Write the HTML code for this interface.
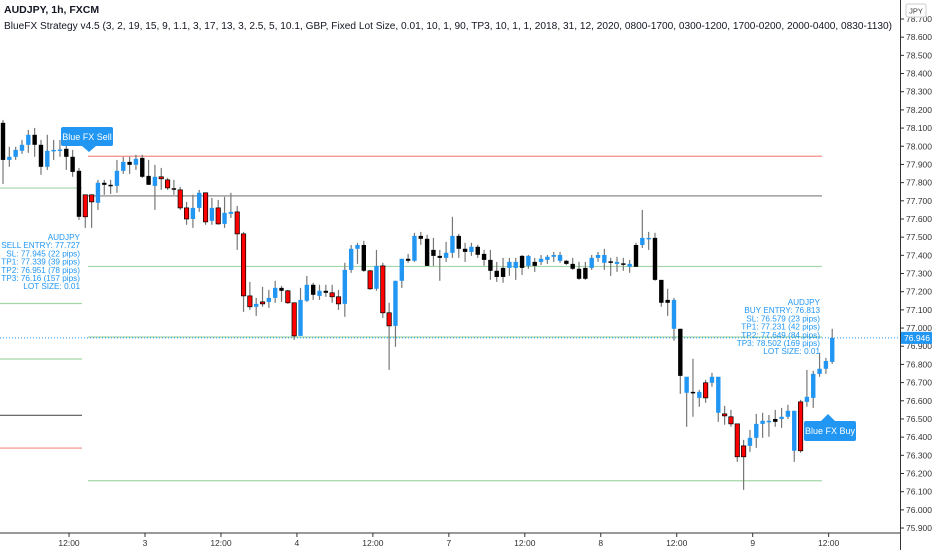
<!DOCTYPE html>
<html><head><meta charset="utf-8">
<style>
html,body{margin:0;padding:0;background:#fff;}
svg{display:block;font-family:"Liberation Sans",sans-serif;}
</style></head>
<body>
<svg id="chart" width="932" height="550" viewBox="0 0 932 550" xmlns="http://www.w3.org/2000/svg">
<rect x="0" y="0" width="932" height="550" fill="#ffffff"/>
<text x="4" y="13" font-size="10.5" font-weight="bold" fill="#131722">AUDJPY, 1h, FXCM</text>
<text x="4" y="29" font-size="10" fill="#131722" textLength="888" lengthAdjust="spacingAndGlyphs">BlueFX Strategy v4.5 (3, 2, 19, 15, 9, 1.1, 3, 17, 13, 3, 2.5, 5, 10.1, GBP, Fixed Lot Size, 0.01, 10, 1, 90, TP3, 10, 1, 1, 2018, 31, 12, 2020, 0800-1700, 0300-1200, 1700-0200, 2000-0400, 0830-1130)</text>
<g id="levels"></g>
<g id="candles"></g>
<g id="annot"></g>
<g id="yaxis"></g>
<g id="xaxis"></g>
</svg>
<script>
// ---- data ----
const opens=[78.129,77.925,77.942,77.975,78.008,78.063,78.008,77.887,77.975,77.977,77.986,77.942,77.865,77.733,77.733,77.689,77.799,77.788,77.782,77.865,77.914,77.898,77.936,77.837,77.782,77.832,77.815,77.769,77.760,77.661,77.600,77.661,77.744,77.590,77.661,77.573,77.628,77.639,77.518,77.177,77.117,77.144,77.144,77.166,77.221,77.205,77.139,76.957,77.150,77.238,77.177,77.205,77.194,77.172,77.133,77.320,77.436,77.457,77.315,77.216,77.342,77.084,77.012,77.260,77.381,77.370,77.507,77.491,77.430,77.397,77.386,77.414,77.507,77.436,77.419,77.447,77.408,77.375,77.315,77.281,77.331,77.364,77.331,77.397,77.342,77.364,77.375,77.392,77.402,77.370,77.353,77.326,77.271,77.331,77.386,77.402,77.361,77.364,77.350,77.353,77.337,77.457,77.496,77.496,77.265,77.139,77.155,76.996,76.732,76.644,76.649,76.616,76.699,76.732,76.528,76.512,76.473,76.292,76.352,76.396,76.473,76.490,76.484,76.500,76.512,76.545,76.325,76.594,76.616,76.748,76.776,76.814];
const highs=[78.145,77.997,77.997,78.035,78.090,78.101,78.035,78.063,78.035,78.035,78.008,77.980,77.881,77.733,77.733,77.815,77.815,77.815,77.925,77.942,77.942,77.953,77.953,77.925,77.898,77.881,77.826,77.815,77.776,77.694,77.733,77.760,77.744,77.716,77.705,77.722,77.744,77.672,77.529,77.254,77.166,77.227,77.210,77.260,77.232,77.210,77.139,77.221,77.287,77.249,77.238,77.238,77.238,77.210,77.359,77.457,77.469,77.480,77.320,77.430,77.359,77.139,77.260,77.381,77.408,77.524,77.529,77.513,77.496,77.430,77.474,77.612,77.518,77.469,77.469,77.458,77.430,77.430,77.364,77.386,77.386,77.386,77.402,77.402,77.386,77.402,77.402,77.419,77.419,77.375,77.386,77.364,77.364,77.402,77.419,77.436,77.386,77.392,77.386,77.375,77.469,77.650,77.529,77.524,77.265,77.216,77.166,76.996,76.732,76.831,76.660,76.715,76.754,76.732,76.572,76.550,76.473,76.385,76.440,76.528,76.534,76.522,76.550,76.561,76.578,76.545,76.605,76.770,76.765,76.864,76.836,76.996];
const lows=[77.793,77.887,77.925,77.958,77.964,77.942,77.843,77.870,77.925,77.942,77.870,77.832,77.595,77.551,77.551,77.650,77.733,77.738,77.744,77.848,77.848,77.870,77.826,77.788,77.650,77.760,77.760,77.733,77.650,77.568,77.551,77.639,77.568,77.568,77.568,77.551,77.606,77.430,77.089,77.100,77.067,77.117,77.111,77.139,77.144,77.133,76.935,76.957,77.144,77.155,77.155,77.172,77.139,77.100,77.062,77.304,77.353,77.309,77.210,77.205,77.056,76.770,76.897,77.221,77.359,77.364,77.458,77.342,77.342,77.260,77.364,77.386,77.386,77.364,77.397,77.386,77.342,77.265,77.254,77.249,77.287,77.265,77.292,77.326,77.309,77.347,77.353,77.364,77.359,77.347,77.320,77.265,77.265,77.320,77.364,77.320,77.287,77.309,77.315,77.304,77.337,77.441,77.430,77.260,77.117,77.067,76.930,76.638,76.457,76.512,76.567,76.589,76.677,76.484,76.468,76.457,76.264,76.110,76.319,76.341,76.396,76.402,76.457,76.451,76.500,76.264,76.314,76.567,76.561,76.732,76.748,76.803];
const closes=[77.925,77.942,77.980,78.008,78.063,78.008,77.887,77.975,77.980,77.982,77.942,77.859,77.612,77.612,77.694,77.799,77.788,77.782,77.865,77.914,77.898,77.931,77.832,77.788,77.832,77.821,77.771,77.763,77.661,77.600,77.661,77.744,77.584,77.661,77.573,77.634,77.639,77.518,77.177,77.117,77.133,77.133,77.166,77.221,77.205,77.139,76.957,77.155,77.238,77.183,77.205,77.194,77.172,77.133,77.320,77.436,77.457,77.315,77.216,77.342,77.084,77.012,77.260,77.381,77.370,77.507,77.491,77.342,77.397,77.386,77.414,77.507,77.436,77.419,77.447,77.403,77.375,77.315,77.281,77.331,77.364,77.331,77.397,77.342,77.364,77.381,77.392,77.402,77.370,77.353,77.326,77.271,77.331,77.386,77.402,77.359,77.367,77.353,77.356,77.337,77.457,77.496,77.491,77.265,77.139,77.155,76.996,76.737,76.644,76.649,76.616,76.699,76.732,76.534,76.517,76.473,76.292,76.352,76.396,76.473,76.490,76.484,76.500,76.512,76.545,76.325,76.594,76.622,76.748,76.776,76.819,76.946];
const candleColors="BUUUUBBUUUBBBRRUBBUUBUBBURRBRRUURURUURRRURUUBRRUUBUBRRUUUBRURRUUBUBBBBUUBBUBBBBBUUBUBUUUUBBBBUUUBUBUBUUBBBUBUBURUURRRRUUUUBUUURUUUUUU";
const priceTicks=[78.7,78.6,78.5,78.4,78.3,78.2,78.1,78.0,77.9,77.8,77.7,77.6,77.5,77.4,77.3,77.2,77.1,77.0,76.9,76.8,76.7,76.6,76.5,76.4,76.3,76.2,76.1,76.0,75.9];
const timeLabels=["12:00","3","12:00","4","12:00","7","12:00","8","12:00","9","12:00"];
const timeLabelIndex=[-12,0,12,24,36,48,60,72,84,96,108];
const sellLevels=[77.945,77.727,77.339,76.951,76.16];
const sellLevelColors=["#f28b82","#9e9e9e","#a5d6a7","#a5d6a7","#a5d6a7"];
const oldLevels=[77.77,77.135,76.83,76.52,76.34];
const oldLevelColors=["#a5d6a7","#a5d6a7","#a5d6a7","#555","#f28b82"];
const lastPrice=76.946;
const sellText=["AUDJPY","SELL ENTRY: 77.727","SL: 77.945 (22 pips)","TP1: 77.339 (39 pips)","TP2: 76.951 (78 pips)","TP3: 76.16 (157 pips)","LOT SIZE: 0.01"];
const buyText=["AUDJPY","BUY ENTRY: 76.813","SL: 76.579 (23 pips)","TP1: 77.231 (42 pips)","TP2: 77.649 (84 pips)","TP3: 78.502 (169 pips)","LOT SIZE: 0.01"];

// ---- scales ----
const y=p=>19+(78.7-p)*181.8;
const x=i=>3+i*6.33;
const NS="http://www.w3.org/2000/svg";
function mk(tag,attrs,parent){const e=document.createElementNS(NS,tag);for(const k in attrs)e.setAttribute(k,attrs[k]);parent.appendChild(e);return e;}

// levels
const lv=document.getElementById('levels');
sellLevels.forEach((p,i)=>{
  const l=mk('line',{x1:88,x2:822,y1:y(p),y2:y(p),stroke:sellLevelColors[i],'stroke-width':i===1?1.5:1.2},lv);
  
  
});
oldLevels.forEach((p,i)=>{
  const l=mk('line',{x1:0,x2:82,y1:y(p),y2:y(p),stroke:oldLevelColors[i],'stroke-width':1.2},lv);
  
  
});
const pl=mk('line',{x1:0,x2:900,y1:y(lastPrice),y2:y(lastPrice),stroke:'#2196f3','stroke-width':1,'stroke-dasharray':'1,2'},lv);



// candles
const cg=document.getElementById('candles');
const fills={U:'#2196f3',B:'#000000',R:'#ff0000'};
opens.forEach((o,i)=>{
  const c=closes[i],cx=x(i),col=candleColors[i]||'U';
  const w=mk('line',{x1:cx,x2:cx,y1:y(highs[i]),y2:y(lows[i]),stroke:'#777','stroke-width':1.2},cg);
  
  
  const top=y(Math.max(o,c)),bot=y(Math.min(o,c));
  const b=mk('rect',{x:cx-2.2,y:top,width:4.4,height:Math.max(1.5,bot-top),fill:fills[col],stroke:col==='R'?'#000':'none','stroke-width':0.7},cg);
  
  
});

// annotations
const an=document.getElementById('annot');
function textBlock(lines,xr,y0,name){
  const g=mk('g',{},an);
  
  
  lines.forEach((s,i)=>{const t=mk('text',{x:xr,y:y0+i*8.2,'font-size':8.2,fill:'#2196f3','text-anchor':'end'},g);t.textContent=s;});
}
textBlock(sellText,80,240,'sell-trade-info');
textBlock(buyText,820,305,'buy-trade-info');
const sb=mk('g',{},an);


mk('rect',{x:61,y:127,width:52,height:19,rx:2,fill:'#2196f3'},sb);
mk('path',{d:'M82 146 L89 152 L96 146 Z',fill:'#2196f3'},sb);
const st=mk('text',{x:87,y:140,'font-size':9,fill:'#fff','text-anchor':'middle'},sb);st.textContent='Blue FX Sell';
const bb=mk('g',{},an);


mk('rect',{x:804,y:421,width:52,height:20,rx:2,fill:'#2196f3'},bb);
mk('path',{d:'M821 421 L828 414 L835 421 Z',fill:'#2196f3'},bb);
const bt=mk('text',{x:830,y:434,'font-size':9,fill:'#fff','text-anchor':'middle'},bb);bt.textContent='Blue FX Buy';

// y axis
const ya=document.getElementById('yaxis');
const axl=mk('line',{x1:900.5,x2:900.5,y1:0,y2:550,stroke:'#333','stroke-width':1},ya);


priceTicks.forEach(p=>{
  mk('line',{x1:900,x2:904,y1:y(p),y2:y(p),stroke:'#333'},ya);
  const t=mk('text',{x:906,y:y(p)+3,'font-size':8.5,fill:'#333'},ya);
  
  
  t.textContent=p.toFixed(3);
});
const jg=mk('g',{},ya);


mk('rect',{x:906,y:4,width:20,height:13,rx:2,fill:'#fff',stroke:'#ccc'},jg);
const jt=mk('text',{x:916,y:13.5,'font-size':7.5,fill:'#333','text-anchor':'middle'},jg);jt.textContent='JPY';
const tg=mk('g',{},ya);


mk('rect',{x:901,y:y(lastPrice)-6,width:31,height:12,fill:'#2196f3'},tg);
const tt=mk('text',{x:904,y:y(lastPrice)+3,'font-size':8.5,fill:'#fff'},tg);tt.textContent=lastPrice.toFixed(3);

// x axis
const xa=document.getElementById('xaxis');
const xl=mk('line',{x1:0,x2:900,y1:533,y2:533,stroke:'#333'},xa);


timeLabels.forEach((s,i)=>{
  const px=145+timeLabelIndex[i]*6.33;
  mk('line',{x1:px,x2:px,y1:533,y2:537,stroke:'#333'},xa);
  const t=mk('text',{x:px,y:546,'font-size':8.5,fill:'#333','text-anchor':'middle'},xa);
  
  
  t.textContent=s;
});
</script>
</body></html>
